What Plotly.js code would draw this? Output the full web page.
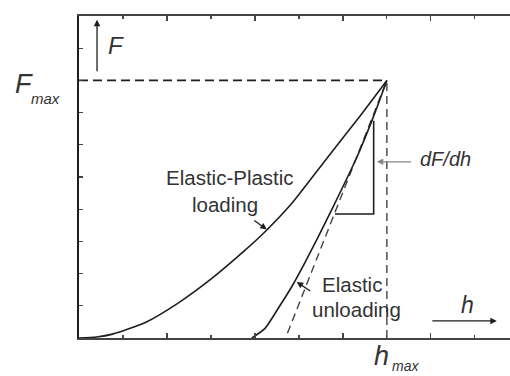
<!DOCTYPE html>
<html>
<head>
<meta charset="utf-8">
<script src="https://cdn.plot.ly/plotly-3.0.1.min.js"></script>
<style>html,body{margin:0;padding:0;background:#fff;}#chart{width:510px;height:376px;}</style>
</head>
<body>
<div id="chart"></div>
<script>
// Values (h in tick units, F in tick units)
const loadingH = [0, 0.4, 0.76, 1.52, 2.27, 3.02, 3.77, 4.23, 4.85, 5.55, 6.32, 7.0];
const loadingF = [0, 0.03, 0.12, 0.49, 1.1, 1.85, 2.72, 3.3, 4.2, 5.43, 6.77, 8.0];
const unloadingH = [3.93, 4.23, 4.52, 4.84, 5.14, 5.43, 5.77, 6.32, 6.68, 7.0];
const unloadingF = [0, 0.3, 0.9, 1.6, 2.35, 3.12, 4.05, 5.62, 6.82, 8.0];
const tangentH = [4.74, 7.0];
const tangentF = [0.15, 8.0];
const triangleH = [5.82, 6.70, 6.70];
const triangleF = [3.85, 3.85, 6.75];
const hMax = 7.0;
const fMax = 8.0;
const fmaxLineH = [0, hMax];
const fmaxLineF = [fMax, fMax];
const hmaxLineH = [hMax, hMax];
const hmaxLineF = [0, fMax];

const ink = '#1e1e1e';
const txt = '#333333';
const fam = '"Liberation Sans", Arial, sans-serif';

const traces = [
  {x: fmaxLineH, y: fmaxLineF, mode: 'lines', line: {color: ink, width: 1.6, dash: '9px,5px'}},
  {x: hmaxLineH, y: hmaxLineF, mode: 'lines', line: {color: '#444', width: 1.4, dash: '8px,5px'}},
  {x: tangentH, y: tangentF, mode: 'lines', line: {color: '#444', width: 1.4, dash: '8px,5px'}},
  {x: loadingH, y: loadingF, mode: 'lines', line: {color: ink, width: 1.6, shape: 'spline', smoothing: 0.6}},
  {x: unloadingH, y: unloadingF, mode: 'lines', line: {color: ink, width: 1.6, shape: 'spline', smoothing: 0.6}},
  {x: triangleH, y: triangleF, mode: 'lines', line: {color: ink, width: 1.6}}
];

function t(text, x, y, size, italic, ref) {
  return {x: x, y: y, xref: ref ? 'paper' : 'x', yref: ref ? 'paper' : 'y', text: text, showarrow: false,
    xanchor: 'center', yanchor: 'middle',
    font: {family: fam, size: size, color: txt, style: italic ? 'italic' : 'normal'}};
}
function arr(x, y, ax, ay, color) {
  return {x: x, y: y, xref: 'x', yref: 'y', text: '', showarrow: true, ax: ax, ay: ay,
    arrowhead: 2, arrowsize: 1, arrowwidth: 1.3, arrowcolor: color || ink};
}

const annotations = [
  t('Elastic-Plastic', 3.43, 4.97, 20.5, false),
  t('loading', 3.32, 4.15, 20.5, false),
  t('Elastic', 6.2, 1.65, 20.5, false),
  t('unloading', 6.3, 0.9, 20.5, false),
  t('dF/dh', 8.34, 5.55, 20, true),
  t('h', 8.84, 1.02, 23, true),
  t('F', 0.84, 9.07, 24, true),
  t('F', -0.128, 0.789, 27, true, true),
  t('max', -0.077, 0.745, 15, true, true),
  t('h', 0.703, -0.056, 27, true, true),
  t('max', 0.758, -0.086, 14, true, true),
  arr(4.27, 3.37, -14, -10),
  arr(4.95, 1.74, 15, 10),
  arr(6.77, 5.47, 36, 0, '#888'),
  arr(9.5, 0.53, -66, 0),
  arr(0.41, 9.88, 0, 53)
];

const layout = {
  width: 510, height: 376,
  margin: {l: 79, r: 0, t: 16, b: 38, pad: 0},
  paper_bgcolor: '#ffffff', plot_bgcolor: '#ffffff',
  showlegend: false,
  xaxis: {range: [0, 9.8], showgrid: false, zeroline: false, showticklabels: false,
    showline: true, linecolor: '#444', linewidth: 1.6, mirror: 'ticks',
    ticks: 'inside', tickmode: 'linear', tick0: 0, dtick: 2, ticklen: 5, tickcolor: '#444', tickwidth: 1.3,
    minor: {ticks: 'inside', tickmode: 'linear', tick0: 1, dtick: 2, ticklen: 3, tickcolor: '#444', tickwidth: 1.2, showgrid: false},
    fixedrange: true},
  yaxis: {range: [0, 10], showgrid: false, zeroline: false, showticklabels: false,
    showline: true, linecolor: ink, linewidth: 1.6, mirror: false,
    ticks: 'inside', tickmode: 'linear', tick0: 0, dtick: 1, ticklen: 4, tickcolor: '#444', tickwidth: 1.2,
    fixedrange: true},
  annotations: annotations
};

Plotly.newPlot('chart', traces, layout, {staticPlot: true, displayModeBar: false});
</script>
</body>
</html>
